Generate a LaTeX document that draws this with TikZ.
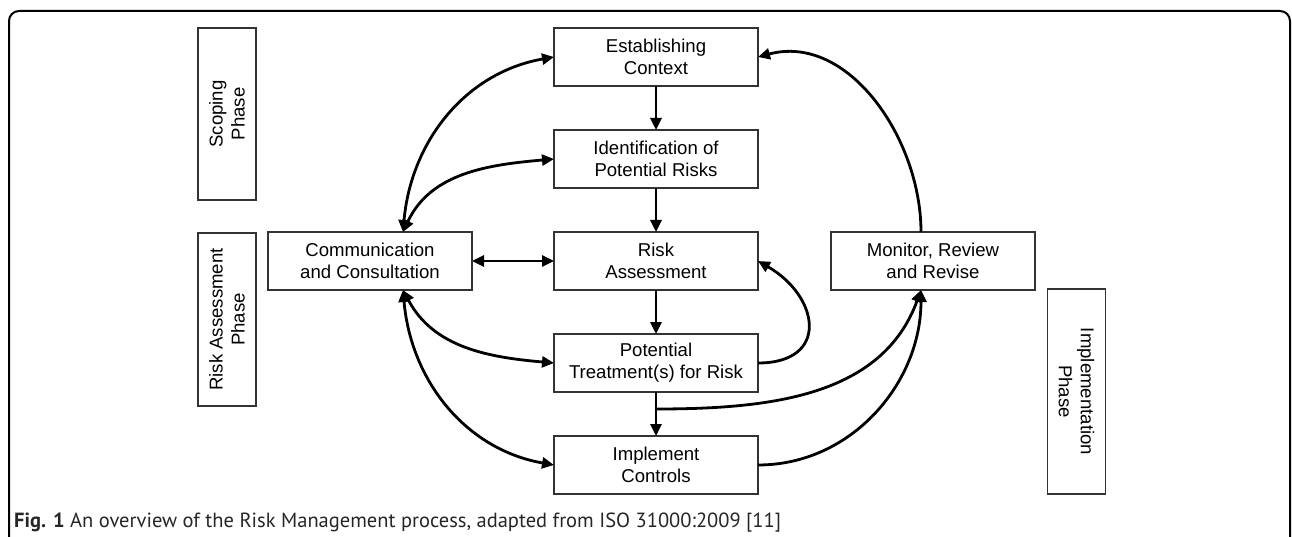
\documentclass[tikz,border=0pt]{standalone}
\usepackage{fontspec}
\setmainfont{Liberation Sans}
\newfontfamily\capfont{PT Sans}
\usetikzlibrary{arrows.meta, positioning}

\begin{document}
\begin{tikzpicture}
	[x=1pt, y=1pt, node distance=44pt and 82pt, >={Triangle[length=12pt,width=11pt]},
	stepbox/.style={rectangle, draw=black!80, line width=1.4pt, minimum width=204pt, minimum height=58pt, inner sep=0pt, outer sep=0pt, align=center, font=\fontsize{18.6}{22}\selectfont},
	phasebox/.style={rectangle, draw=black!80, line width=1.4pt, minimum height=58pt, inner sep=0pt, outer sep=0pt, align=center, font=\fontsize{18.6}{22}\selectfont},
	flow/.style={->, line width=2.8pt},
	twoway/.style={<->, line width=2.8pt}
	]

	\useasboundingbox (0,0) rectangle (1292,-537);

	% Frame
	\draw[line width=2pt, rounded corners=10pt] (9,-11) rectangle (1290,-600);

	% Nodes
	\node[stepbox] (est) at (656,-57) {Establishing\\Context};
	\node[stepbox, below=of est] (ident) {Identification of\\Potential Risks};
	\node[stepbox, below=of ident] (assess) {Risk\\Assessment};
	\node[stepbox, below=of assess] (treat) {Potential\\Treatment(s) for Risk};
	\node[stepbox, below=of treat] (impl) {Implement\\Controls};
	\node[stepbox, left=of assess] (comm) {Communication\\and Consultation};
	\node[stepbox, right=73pt of assess] (monitor) {Monitor, Review\\and Revise};

	% Phases
	\node[phasebox, rotate=90, minimum width=172pt] (scoping) at (227,-114) {Scoping\\Phase};
	\node[phasebox, rotate=90, minimum width=173pt] (riskphase) at (227,-319.5) {Risk Assessment\\Phase};
	\node[phasebox, rotate=-90, minimum width=205pt] (implphase) at (1076.5,-391.5) {Implementation\\Phase};

	% Anchors for the curved arrows
	\coordinate (commtop) at ([xshift=33pt]comm.north);
	\coordinate (commbot) at ([xshift=33pt]comm.south);
	\coordinate (montop) at ([xshift=-12pt]monitor.north);
	\coordinate (monbot) at ([xshift=-12pt]monitor.south);
	\coordinate (branch) at ([yshift=-17pt]treat.south);

	% Arrows
	\draw[flow] (est) -- (ident);
	\draw[flow] (ident) -- (assess);
	\draw[flow] (assess) -- (treat);
	\draw[flow] (treat) -- (impl);
	\draw[twoway] (comm) -- (assess);
	\draw[twoway] (commtop) to[out=85, in=190] (est.west);
	\draw[twoway] (commtop) to[out=65, in=185] (ident.west);
	\draw[twoway] (commbot) to[out=-62, in=175] (treat.west);
	\draw[twoway] (commbot) to[out=-85, in=170] (impl.west);
	\draw[flow] (treat.east) to[out=0, in=-30, looseness=1.8] (assess.east);
	\draw[flow] (branch) to[out=0, in=-110] (monbot);
	\draw[flow] (impl.east) to[out=0, in=-90] (monbot);
	\draw[flow] (montop) to[out=90, in=15] (est.east);

	% Caption
	\node[anchor=base west, inner sep=0pt, text=black!85, font=\capfont\fontsize{20.5}{24}\selectfont] (caption) at (14,-527) {\textbf{Fig. 1} An overview of the Risk Management process, adapted from ISO 31000:2009 [11]};
\end{tikzpicture}
\end{document}
